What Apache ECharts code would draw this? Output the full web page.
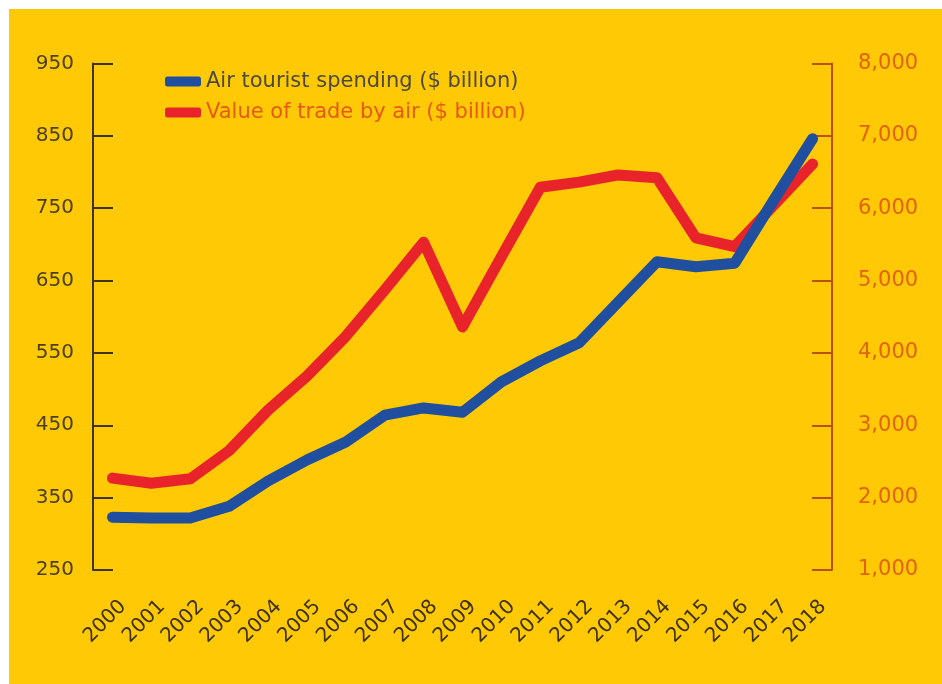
<!DOCTYPE html>
<html>
<head>
<meta charset="utf-8">
<script src="https://cdn.jsdelivr.net/npm/echarts@6/dist/echarts.min.js"></script>
<style>
  html, body { margin: 0; padding: 0; background: #ffffff; }
  #wrap { position: relative; width: 942px; height: 684px; background: #ffffff; overflow: hidden; }
  #chart { position: absolute; left: 9px; top: 9px; width: 933px; height: 675px; }
</style>
</head>
<body>
<div id="wrap"><div id="chart"></div></div>
<script>
// Years on the category axis
const years = ['2000', '2001', '2002', '2003', '2004', '2005', '2006', '2007', '2008', '2009',
               '2010', '2011', '2012', '2013', '2014', '2015', '2016', '2017', '2018'];

// Air tourist spending, $ billion (left axis)
const touristSpending = [323, 322, 322, 338, 373, 402, 427, 464, 474, 468,
                         510, 539, 564, 620, 676, 669, 674, 761, 846];

// Value of trade by air, $ billion (right axis)
const tradeByAir = [2270, 2200, 2260, 2650, 3210, 3680, 4230, 4870, 5530, 4360,
                    5330, 6290, 6360, 6460, 6420, 5590, 5470, 6040, 6610];

const spendingName = 'Air tourist spending ($ billion)';
const tradeName = 'Value of trade by air ($ billion)';

const FONT = 'DejaVu Sans';
const DARK = '#4b3f22';
const ORANGE = '#e2620e';

const chart = echarts.init(document.getElementById('chart'), null, { renderer: 'canvas' });

chart.setOption({
  backgroundColor: '#ffc905',
  animation: false,
  grid: { left: 84, right: 110, top: 54.5, bottom: 114, containLabel: false },
  legend: {
    orient: 'vertical',
    left: 151,
    top: 57,
    itemWidth: 36,
    itemHeight: 10,
    itemGap: 10,
    icon: 'roundRect',
    textStyle: { fontFamily: FONT, fontSize: 21 },
    data: [
      { name: spendingName, textStyle: { color: '#4d4a3c' } },
      { name: tradeName, textStyle: { color: '#e65a12' } }
    ]
  },
  xAxis: {
    type: 'category',
    data: years,
    boundaryGap: true,
    axisLine: { show: false },
    axisTick: { show: false },
    axisLabel: {
      rotate: 45,
      margin: 23,
      verticalAlign: 'top',
      padding: [5, 0, 0, 0],
      color: '#3f3210',
      fontFamily: FONT,
      fontSize: 20,
      interval: 0
    }
  },
  yAxis: [
    {
      type: 'value',
      position: 'left',
      min: 250,
      max: 950,
      interval: 100,
      splitLine: { show: false },
      axisLine: { show: true, lineStyle: { color: '#3f3420', width: 2 } },
      axisTick: { show: true, inside: true, length: 20, lineStyle: { color: '#3f3420', width: 2 } },
      axisLabel: { margin: 19, color: DARK, fontFamily: FONT, fontSize: 20 }
    },
    {
      type: 'value',
      position: 'right',
      min: 1000,
      max: 8000,
      interval: 1000,
      splitLine: { show: false },
      axisLine: { show: true, lineStyle: { color: '#b9520f', width: 2 } },
      axisTick: { show: true, inside: true, length: 20, lineStyle: { color: '#b9520f', width: 2 } },
      axisLabel: {
        margin: 26,
        color: ORANGE,
        fontFamily: FONT,
        fontSize: 21,
        formatter: v => v.toLocaleString('en-US')
      }
    }
  ],
  series: [
    {
      name: tradeName,
      type: 'line',
      yAxisIndex: 1,
      data: tradeByAir,
      symbol: 'none',
      smooth: false,
      z: 2,
      itemStyle: { color: '#e8232a' },
      lineStyle: { color: '#e8232a', width: 11, cap: 'round', join: 'round' }
    },
    {
      name: spendingName,
      type: 'line',
      yAxisIndex: 0,
      data: touristSpending,
      symbol: 'none',
      smooth: false,
      z: 3,
      itemStyle: { color: '#1f4f9e' },
      lineStyle: { color: '#1f4f9e', width: 11, cap: 'round', join: 'round' }
    }
  ]
});
</script>
</body>
</html>
